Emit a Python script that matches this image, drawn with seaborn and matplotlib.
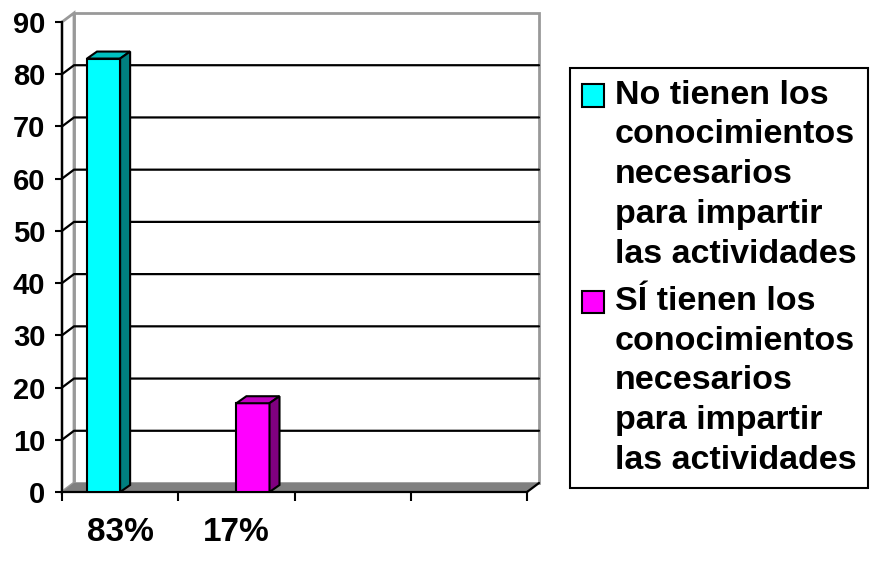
import matplotlib
matplotlib.use("Agg")
import matplotlib.pyplot as plt
import seaborn as sns
import pandas as pd
from matplotlib.patches import Polygon, Rectangle
from matplotlib.legend_handler import HandlerPatch

# datos del grafico
categorias = ["83%", "17%"]
series = ["No tienen los\nconocimientos\nnecesarios\npara impartir\nlas actividades",
          "SÍ tienen los\nconocimientos\nnecesarios\npara impartir\nlas actividades"]
valores = [83, 17]
marcas_y = [0, 10, 20, 30, 40, 50, 60, 70, 80, 90]
colores = ["#00FFFF", "#FF00FF"]
colores_techo = ["#00C0C0", "#C000C0"]
colores_lado = ["#008080", "#800080"]

df = pd.DataFrame({"cat": categorias, "serie": series, "valor": valores})

sns.set_theme(style="white")
plt.rcParams["font.family"] = ["Liberation Sans", "DejaVu Sans"]
plt.rcParams["font.weight"] = "bold"
plt.rcParams["text.color"] = "black"
plt.rcParams["xtick.color"] = "black"
plt.rcParams["ytick.color"] = "black"

fig = plt.figure(figsize=(8.75, 5.61), dpi=100)
ax = fig.add_axes([62/875, 69/561, 465/875, 470/561])
sns.barplot(data=df, x="cat", y="valor", hue="serie", order=categorias, hue_order=series,
            palette=colores, saturation=1, width=0.57, dodge=True, edgecolor="black",
            linewidth=1.5, ax=ax, legend=True)

ax.set_xlim(-0.5, 3.5)
ax.set_ylim(0, 90)
ax.set_xlabel("")
ax.set_ylabel("")
ax.patch.set_visible(False)

def desplaza(px, py):
    inv = ax.transData.inverted()
    a = inv.transform((0, 0))
    b = inv.transform((px, py))
    return b[0] - a[0], b[1] - a[1]

x0, x1 = ax.get_xlim()
ytop = marcas_y[-1]
dxw, dyw = desplaza(12, 9)
dxb, dyb = desplaza(10, 7)
gris = "#999999"

# paredes
ax.add_patch(Rectangle((x0 + dxw, dyw), x1 - x0, ytop, facecolor="white", edgecolor=gris,
                       lw=2, clip_on=False, zorder=0.2))
ax.add_patch(Polygon([(x0, 0), (x0 + dxw, dyw), (x0 + dxw, ytop + dyw), (x0, ytop)],
                     closed=True, facecolor="white", edgecolor=gris, lw=2, clip_on=False, zorder=0.2))
for v in marcas_y[1:-1]:
    ax.plot([x0, x0 + dxw, x1 + dxw], [v, v + dyw, v + dyw], color="black", lw=1.6,
            clip_on=False, zorder=0.5)
# piso
ax.add_patch(Polygon([(x0, 0), (x1, 0), (x1 + dxw, dyw), (x0 + dxw, dyw)], closed=True,
                     facecolor="#808080", edgecolor="none", clip_on=False, zorder=0.6))
ax.plot([x1, x1 + dxw], [0, dyw], color="black", lw=1.6, clip_on=False, zorder=0.7)

# caras 3d de las barras
for cont, ct, cl in zip(ax.containers, colores_techo, colores_lado):
    for p in cont.patches:
        h = p.get_height()
        if not h > 0:
            continue
        x, w = p.get_x(), p.get_width()
        p.set_zorder(3)
        ax.add_patch(Polygon([(x, h), (x + w, h), (x + w + dxb, h + dyb), (x + dxb, h + dyb)],
                             closed=True, facecolor=ct, edgecolor="black", lw=1.5,
                             clip_on=False, zorder=3))
        ax.add_patch(Polygon([(x + w, 0), (x + w + dxb, dyb), (x + w + dxb, h + dyb), (x + w, h)],
                             closed=True, facecolor=cl, edgecolor="black", lw=1.5,
                             clip_on=False, zorder=3))

for s in ["top", "right"]:
    ax.spines[s].set_visible(False)
for s in ["left", "bottom"]:
    ax.spines[s].set_color("black")
    ax.spines[s].set_linewidth(1.6)

ax.set_yticks(marcas_y)
ax.tick_params(axis="y", left=True, direction="out", length=5, width=1.5, color="black",
               labelcolor="black", labelsize=21, pad=7)
ax.set_xticks([0, 1], categorias)
ax.set_xticks([x0 + i for i in range(5)], minor=True)
ax.tick_params(axis="x", which="major", bottom=True, length=0, labelsize=24, pad=18,
               labelcolor="black")
ax.tick_params(axis="x", which="minor", bottom=True, direction="out", length=6.5, width=1.5,
               color="black")

# leyenda
vieja = ax.get_legend()
manijas = vieja.legend_handles
etiquetas = [t.get_text() for t in vieja.get_texts()]
vieja.remove()
for m, c in zip(manijas, colores):
    m.set_facecolor(c)
    m.set_edgecolor("black")
    m.set_linewidth(1.5)

subida = 2 * 39.5 * 72 / 100

def parche(legend, orig_handle, xdescent, ydescent, width, height, fontsize):
    return Rectangle((-xdescent, -ydescent + subida), width, height)

leg = fig.legend(manijas, etiquetas, loc="upper left", bbox_to_anchor=(570/875, 1 - 68/561),
                 bbox_transform=fig.transFigure, frameon=True, fancybox=False, shadow=False,
                 edgecolor="black", framealpha=1,
                 prop={"family": "Liberation Sans", "weight": "bold", "size": 24.5},
                 borderpad=0.34, handletextpad=0.32, handlelength=0.66, handleheight=0.66,
                 labelspacing=0.48, borderaxespad=0,
                 handler_map={m: HandlerPatch(patch_func=parche) for m in manijas})
leg.get_frame().set_linewidth(1.5)
for t in leg.get_texts():
    t.set_linespacing(1.365)
    t.set_color("black")

fig.savefig("out.png", dpi=100, facecolor="white")
